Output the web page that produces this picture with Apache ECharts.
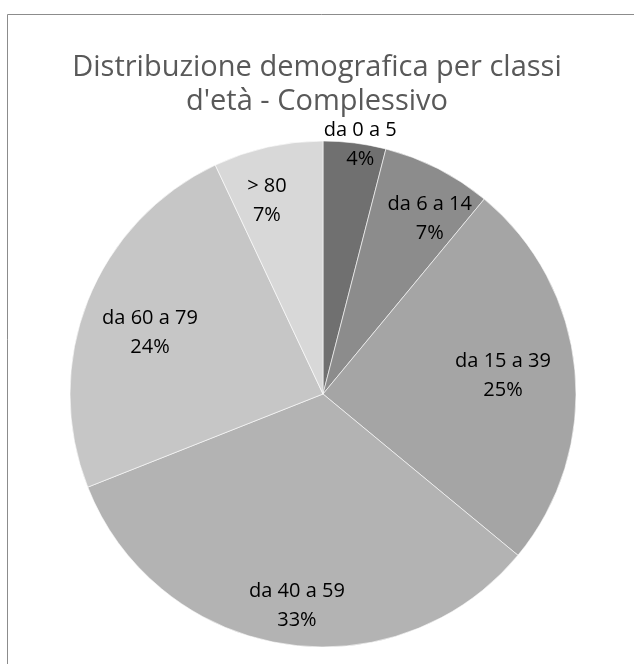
<!DOCTYPE html>
<html>
<head>
<meta charset="utf-8">
<script src="https://cdn.jsdelivr.net/npm/echarts@6/dist/echarts.min.js"></script>
<style>
  html, body { margin: 0; padding: 0; background: #fff; }
  #chart { width: 634px; height: 664px; }
</style>
</head>
<body>
<div id="chart"></div>
<script>
var categories = ['da 0 a 5', 'da 6 a 14', 'da 15 a 39', 'da 40 a 59', 'da 60 a 79', '> 80']
var values = [4, 7, 25, 33, 24, 7]
var colors = ['#707070', '#8c8c8c', '#a5a5a5', '#b3b3b3', '#c6c6c6', '#d8d8d8']
// where Excel put each label: fraction of the radius, and a small turn (deg) off the slice middle
var labelRadius = [0.995, 0.81, 0.715, 0.845, 0.725, 0.795]
var labelTurn = [1.3, 4.4, -0.3, -2, -2.2, -3.6]

var center = [323, 394]
var radius = 253

var total = values.reduce(function (a, b) { return a + b }, 0)
var midAngle = []
var acc = 0
values.forEach(function (v) {
  midAngle.push((acc + v / 2) / total * 360)
  acc += v
})

var chart = echarts.init(document.getElementById('chart'))

chart.setOption({
  backgroundColor: '#fff',
  animation: false,
  title: {
    text: "Distribuzione demografica per classi\nd'età - Complessivo",
    left: 'center',
    top: 46,
    textStyle: {
      fontFamily: 'Open Sans',
      fontSize: 29,
      fontWeight: 'normal',
      color: '#595959',
      lineHeight: 34
    }
  },
  graphic: [{
    type: 'rect',
    shape: { x: 7.5, y: 14.5, width: 700, height: 700 },
    style: { fill: 'none', stroke: '#8c8c8c', lineWidth: 1 }
  }],
  series: [{
    type: 'pie',
    center: center,
    radius: radius,
    startAngle: 90,
    clockwise: true,
    data: categories.map(function (c, i) {
      return { name: c, value: values[i], itemStyle: { color: colors[i] } }
    }),
    itemStyle: { borderColor: '#fff', borderWidth: 0.6 },
    label: {
      show: true,
      position: 'inside',
      formatter: '{b}\n{d}%',
      fontFamily: 'Open Sans',
      fontSize: 20,
      lineHeight: 29,
      color: '#000',
      align: 'center',
      verticalAlign: 'middle'
    },
    labelLine: { show: false },
    labelLayout: function (params) {
      var i = params.dataIndex
      var a = (midAngle[i] + labelTurn[i]) * Math.PI / 180
      var d = labelRadius[i] * radius
      return {
        x: center[0] + d * Math.sin(a),
        y: center[1] - d * Math.cos(a),
        align: 'center',
        verticalAlign: 'middle'
      }
    }
  }]
})
</script>
</body>
</html>
